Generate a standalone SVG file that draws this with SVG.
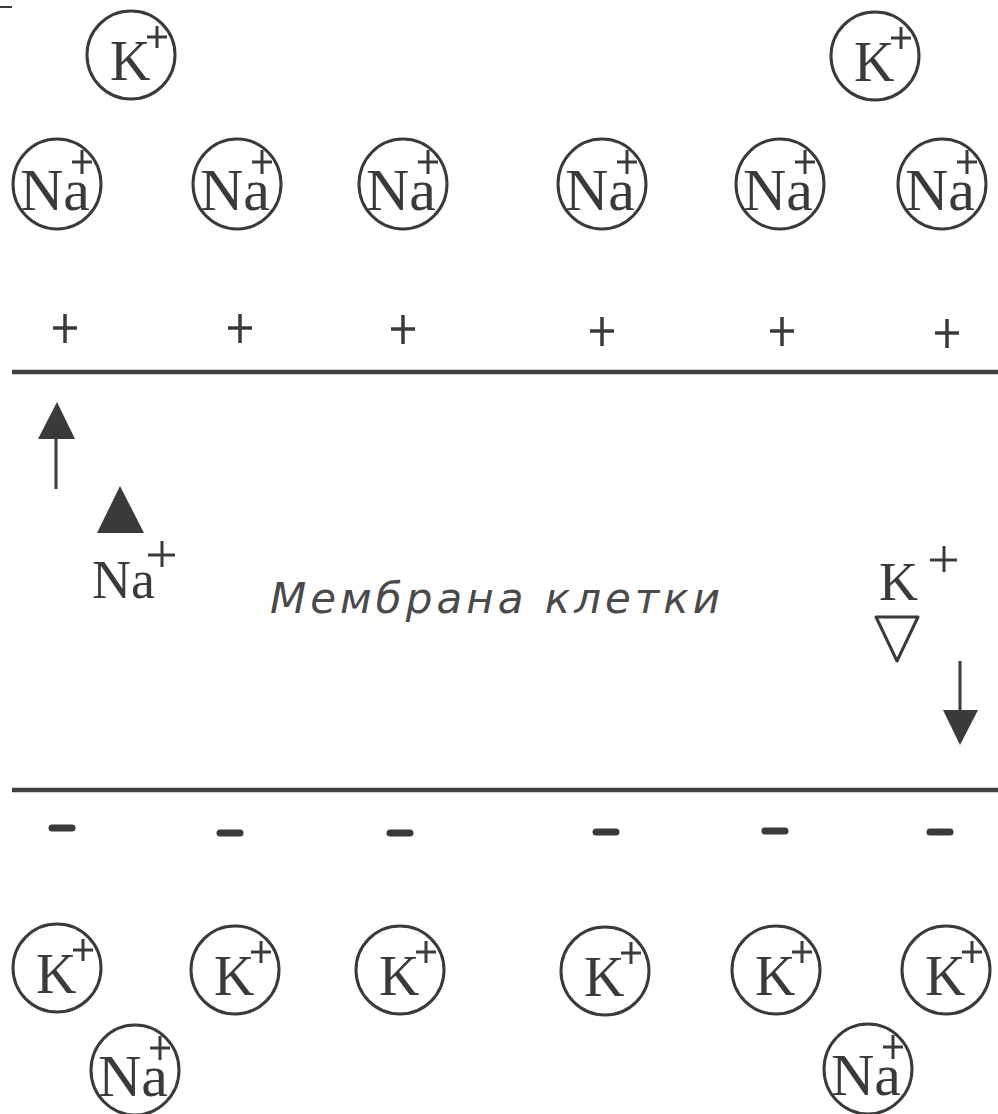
<svg xmlns="http://www.w3.org/2000/svg" width="998" height="1114" viewBox="0 0 998 1114">
<defs>
<style>
.ion{fill:none;stroke:#3a3a3a;stroke-width:3}
.sym{font-family:"Liberation Serif","Times New Roman",serif;fill:#3a3a3a}
.na{font-size:60px}
.k{font-size:56px}
.sup{stroke:#3a3a3a;stroke-width:3;fill:none}
.mem{stroke:#404040;stroke-width:4.5;fill:none}
.chg{stroke:#3a3a3a;stroke-width:3.5;fill:none}
.neg{stroke:#3a3a3a;stroke-width:7;stroke-linecap:round;fill:none}
.lbl{font-family:"DejaVu Sans","Liberation Sans",sans-serif;font-style:italic;font-size:42px;fill:#4a4a4a}
</style>
<g id="naIon">
<ellipse class="ion" cx="0" cy="0" rx="44" ry="45"/>
<text class="sym na" x="-37" y="26" textLength="70" lengthAdjust="spacingAndGlyphs">Na</text>
<path class="sup" d="M15 -22 H35 M25 -34 V-10"/>
</g>
<g id="kIon">
<ellipse class="ion" cx="0" cy="0" rx="44" ry="44"/>
<text class="sym k" x="-21" y="25">K</text>
<path class="sup" d="M16 -18 H36 M26 -29 V-7"/>
</g>
</defs>
<rect width="998" height="1114" fill="#ffffff"/>
<line x1="0" y1="7" x2="12" y2="7" stroke="#3a3a3a" stroke-width="2"/>

<g id="k-top-1"><use href="#kIon" x="131" y="55"/></g>
<g id="k-top-2"><use href="#kIon" x="875" y="56"/></g>

<g id="na-top-1"><use href="#naIon" x="57" y="184"/></g>
<g id="na-top-2"><use href="#naIon" x="237" y="184"/></g>
<g id="na-top-3"><use href="#naIon" x="403" y="184"/></g>
<g id="na-top-4"><use href="#naIon" x="602" y="184"/></g>
<g id="na-top-5"><use href="#naIon" x="780" y="184"/></g>
<g id="na-top-6"><use href="#naIon" x="942" y="184"/></g>

<g id="plus-charges">
<path class="chg" d="M53 328 H77 M65 314 V343"/>
<path class="chg" d="M228 328 H252 M240 314 V343"/>
<path class="chg" d="M391 329 H415 M403 315 V344"/>
<path class="chg" d="M590 331 H614 M602 317 V346"/>
<path class="chg" d="M770 331 H794 M782 317 V346"/>
<path class="chg" d="M935 333 H959 M947 319 V348"/>
</g>

<g id="membrane">
<line class="mem" x1="12" y1="372" x2="998" y2="372"/>
<line class="mem" x1="12" y1="790" x2="998" y2="790"/>
</g>

<g id="minus-charges">
<line class="neg" x1="52" y1="828" x2="72" y2="828"/>
<line class="neg" x1="220" y1="833" x2="240" y2="833"/>
<line class="neg" x1="390" y1="833" x2="410" y2="833"/>
<line class="neg" x1="596" y1="832" x2="616" y2="832"/>
<line class="neg" x1="765" y1="831" x2="785" y2="831"/>
<line class="neg" x1="930" y1="832" x2="950" y2="832"/>
</g>

<g id="k-bottom-1"><use href="#kIon" x="57" y="968"/></g>
<g id="k-bottom-2"><use href="#kIon" x="235" y="970"/></g>
<g id="k-bottom-3"><use href="#kIon" x="400" y="970"/></g>
<g id="k-bottom-4"><use href="#kIon" x="605" y="971"/></g>
<g id="k-bottom-5"><use href="#kIon" x="776" y="970"/></g>
<g id="k-bottom-6"><use href="#kIon" x="946" y="970"/></g>

<g id="na-bottom-1"><use href="#naIon" x="135" y="1070"/></g>
<g id="na-bottom-2"><use href="#naIon" x="868" y="1069"/></g>

<g id="na-channel">
<polygon points="120,486 97,533 144,533" fill="#3a3a3a"/>
<text class="sym" x="92" y="598" font-size="54">Na</text>
<path class="sup" d="M148 555 H175 M162 541 V567"/>
</g>

<g id="k-channel">
<text class="sym" x="879" y="600" font-size="54">K</text>
<path class="sup" d="M930 560 H957 M944 546 V572"/>
<polygon points="876,617 918,617 897,661" fill="none" stroke="#3a3a3a" stroke-width="3" stroke-linejoin="round"/>
</g>

<g id="label-membrane">
<text class="lbl" x="270" y="613" textLength="450" lengthAdjust="spacing">Мембрана клетки</text>
</g>

<g id="connectors">
<line x1="56" y1="436" x2="56" y2="489" stroke="#3a3a3a" stroke-width="3"/>
<polygon points="57,402 38,439 75,439" fill="#3a3a3a"/>
<line x1="960" y1="661" x2="960" y2="712" stroke="#3a3a3a" stroke-width="3"/>
<polygon points="943,710 978,710 960,745" fill="#3a3a3a"/>
</g>
</svg>
